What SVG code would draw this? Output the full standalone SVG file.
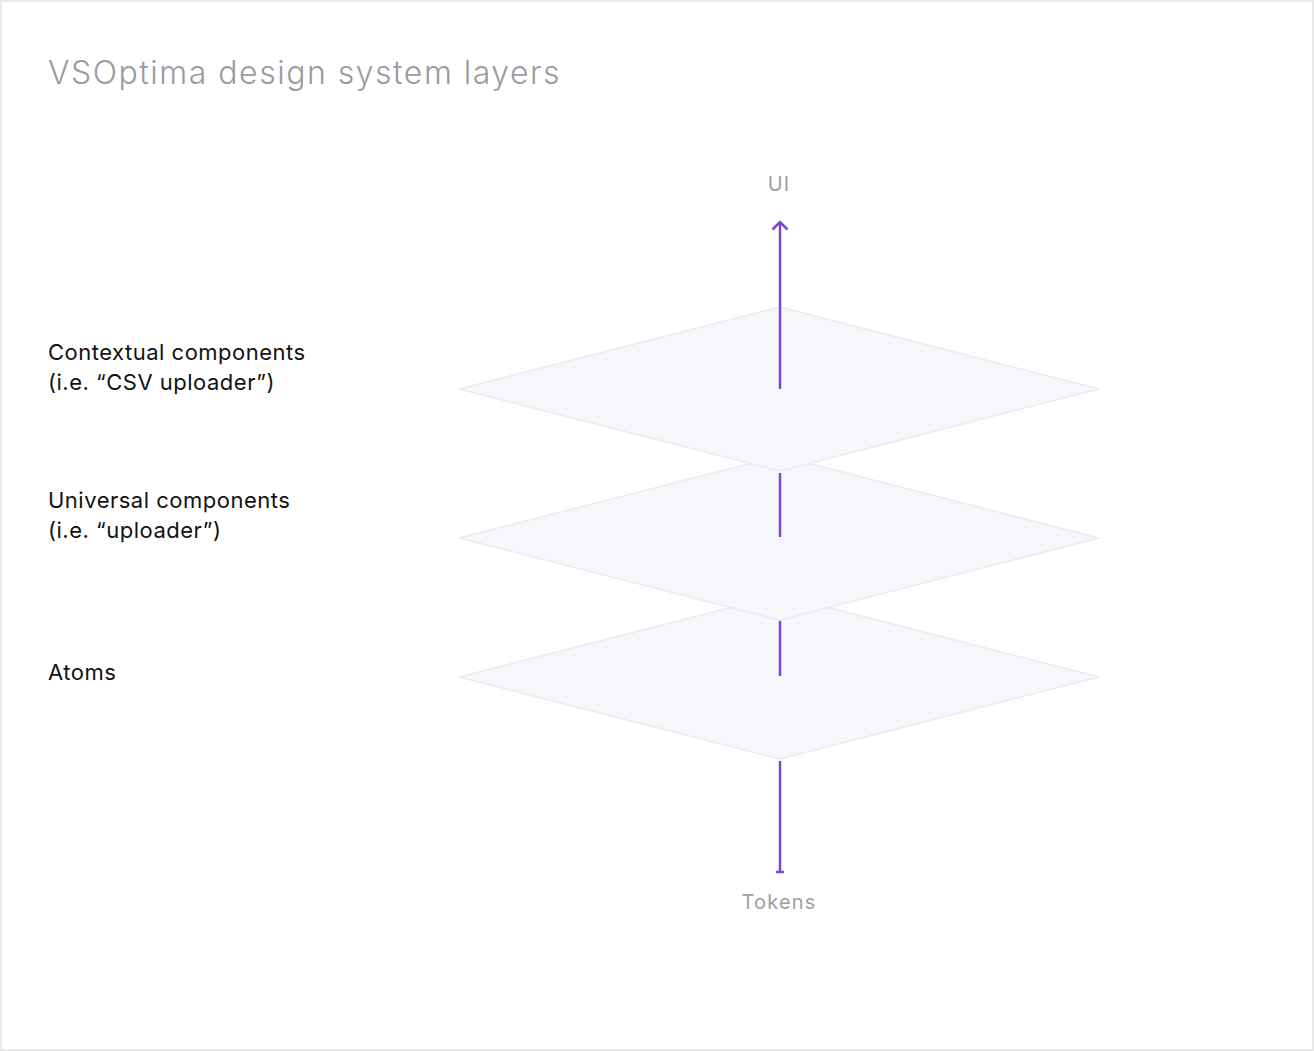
<svg xmlns="http://www.w3.org/2000/svg" width="1314" height="1051" viewBox="0 0 1314 1051">
<style>
.layer{fill:#f6f7fa;stroke:#ebebef;stroke-width:1.5}
.lbl{font-family:Inter,"Noto Sans",sans-serif;font-size:22px;fill:#121212;letter-spacing:0.5px}
.end{font-family:Inter,"Noto Sans",sans-serif;font-size:20px;fill:#9d9ea3;text-anchor:middle;letter-spacing:1.2px}
.conn{stroke:#7b45d6;stroke-width:2.5;fill:none;stroke-linecap:butt}
</style>
<rect x="1" y="1" width="1312" height="1049" fill="#ffffff" stroke="#e8e8ea" stroke-width="2"/>
<text x="48" y="84" font-family="Inter,'Noto Sans',sans-serif" font-size="32" font-weight="300" fill="#9a9a9f" letter-spacing="1.5">VSOptima design system layers</text>
<g id="node-atoms">
<polygon class="layer" points="780,595 1099,677 780,759 459,677"/>
</g>
<g id="node-universal">
<polygon class="layer" points="780,456 1099,538 780,620 459,538"/>
</g>
<g id="node-contextual">
<polygon class="layer" points="780,307 1099,389 780,471 459,389"/>
</g>
<g id="connectors">
<line class="conn" x1="780" y1="389" x2="780" y2="222"/>
<polyline class="conn" points="772.5,229.5 780,222 787.5,229.5"/>
<line class="conn" x1="780" y1="473" x2="780" y2="537"/>
<line class="conn" x1="780" y1="621" x2="780" y2="676"/>
<line class="conn" x1="780" y1="761" x2="780" y2="872"/>
<line class="conn" x1="776" y1="872" x2="784" y2="872"/>
</g>
<g id="label-ui"><text class="end" x="779" y="191">UI</text></g>
<g id="label-tokens"><text class="end" x="779" y="909">Tokens</text></g>
<g id="label-contextual">
<text class="lbl" x="48" y="360">Contextual components</text>
<text class="lbl" x="48" y="390">(i.e. “CSV uploader”)</text>
</g>
<g id="label-universal">
<text class="lbl" x="48" y="508">Universal components</text>
<text class="lbl" x="48" y="538">(i.e. “uploader”)</text>
</g>
<g id="label-atoms">
<text class="lbl" x="48" y="680">Atoms</text>
</g>
</svg>
